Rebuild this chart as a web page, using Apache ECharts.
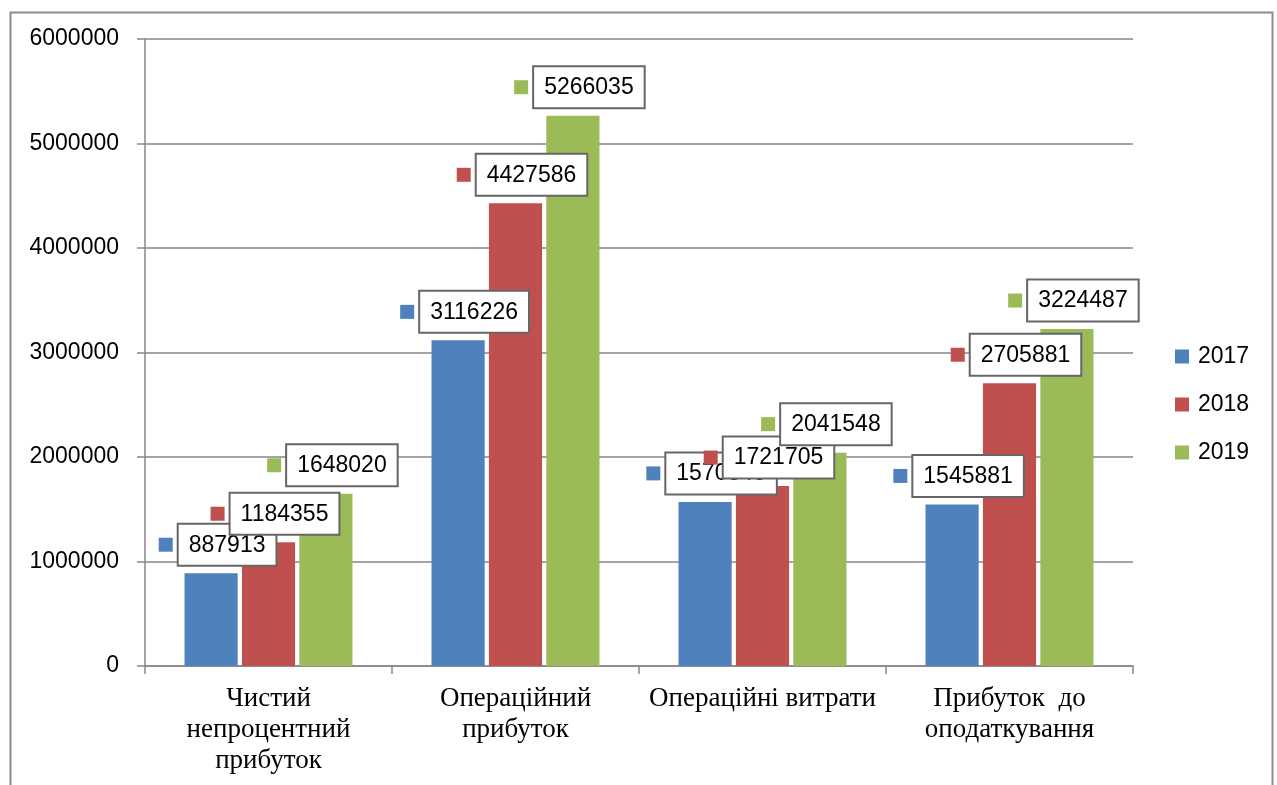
<!DOCTYPE html>
<html>
<head>
<meta charset="utf-8">
<script src="https://cdn.jsdelivr.net/npm/echarts@6/dist/echarts.min.js"></script>
<style>html,body{margin:0;padding:0;background:#fff}#c{width:1277px;height:785px}</style>
</head>
<body>
<div id="c"></div>
<script>
var categories = ['Чистий\nнепроцентний\nприбуток', 'Операційний\nприбуток', 'Операційні витрати', 'Прибуток  до\nоподаткування'];
var years = ['2017', '2018', '2019'];
var values2017 = [887913, 3116226, 1570343, 1545881];
var values2018 = [1184355, 4427586, 1721705, 2705881];
var values2019 = [1648020, 5266035, 2041548, 3224487];
var yMin = 0, yMax = 6000000, yStep = 1000000;

var colors = ['#4F81BD', '#C0504D', '#9BBB59'];
var seriesValues = [values2017, values2018, values2019];
var fontSans = 'Liberation Sans';

function makeSeries(i) {
  return {
    name: years[i],
    type: 'bar',
    data: seriesValues[i],
    barGap: '8%',
    barCategoryGap: '32%',
    itemStyle: { color: colors[i] },
    label: {
      show: true,
      position: 'top',
      distance: 8,
      offset: [6, -9],
      formatter: function (p) { return '{m|}{g|}{b|' + p.value + '}'; },
      rich: {
        m: { width: 14, height: 14, backgroundColor: colors[i], verticalAlign: 'middle' },
        g: { width: 6, height: 14 },
        b: {
          fontFamily: fontSans, fontSize: 23, lineHeight: 23, color: '#000',
          backgroundColor: '#fff', borderColor: '#666', borderWidth: 2,
          padding: [9, 10, 8, 10], verticalAlign: 'middle'
        }
      }
    }
  };
}

var chart = echarts.init(document.getElementById('c'));
chart.setOption({
  animation: false,
  backgroundColor: '#fff',
  graphic: [{
    type: 'rect', left: 8, top: 10, z: -10,
    shape: { width: 1262, height: 820 },
    style: { fill: 'none', stroke: '#8c8c8c', lineWidth: 2 }
  }],
  grid: { left: 145, right: 144, top: 39, bottom: 119 },
  legend: {
    orient: 'vertical', left: 1170, top: 340,
    icon: 'rect', itemWidth: 14, itemHeight: 14, itemGap: 25,
    textStyle: { fontFamily: fontSans, fontSize: 23, color: '#000', padding: [0, 0, 0, 4] },
    data: years
  },
  xAxis: {
    type: 'category', data: categories,
    axisLine: { lineStyle: { color: '#868686', width: 1.5 } },
    axisTick: { show: true, length: 8, lineStyle: { color: '#868686', width: 1.5 } },
    axisLabel: { fontFamily: 'Liberation Serif', fontSize: 27, lineHeight: 31, color: '#000', margin: 17, interval: 0 }
  },
  yAxis: {
    type: 'value', min: yMin, max: yMax, interval: yStep,
    axisLine: { show: true, lineStyle: { color: '#868686', width: 1.5 } },
    axisTick: { show: true, length: 8, lineStyle: { color: '#868686', width: 1.5 } },
    splitLine: { lineStyle: { color: '#868686', width: 1.5 } },
    axisLabel: { fontFamily: fontSans, fontSize: 23, color: '#000', margin: 26,
      formatter: function (v) { return String(v); } }
  },
  series: [makeSeries(0), makeSeries(1), makeSeries(2)]
});
</script>
</body>
</html>
